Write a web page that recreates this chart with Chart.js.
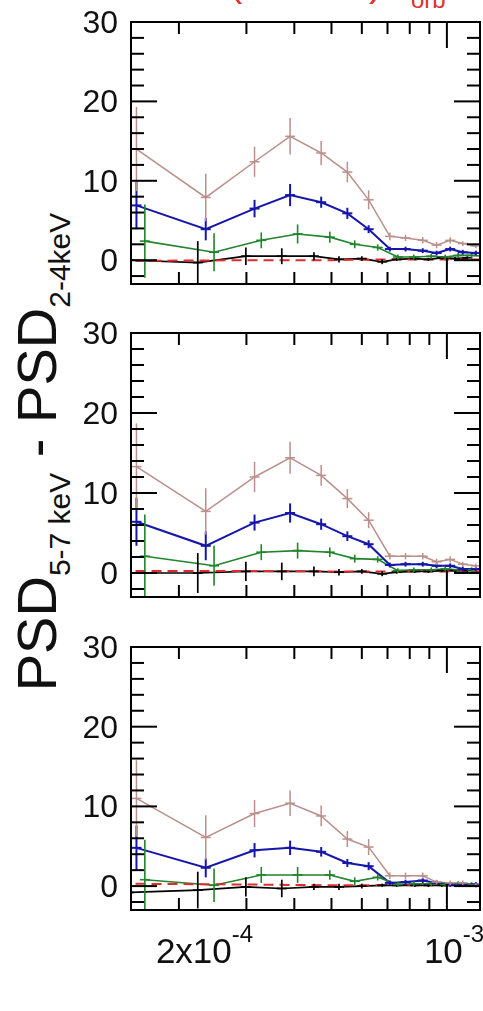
<!DOCTYPE html>
<html>
<head>
<meta charset="utf-8">
<script src="https://cdn.jsdelivr.net/npm/chart.js@4/dist/chart.umd.min.js"></script>
<style>
  html, body { margin: 0; padding: 0; background: #fff; }
  body { width: 483px; height: 1011px; position: relative; overflow: hidden; font-family: "Liberation Sans", Arial, sans-serif; }
  canvas { position: absolute; left: 0; }
  #ylabel {
    position: absolute; left: 40px; top: 452px;
    transform: translate(-50%, -50%) rotate(-90deg);
    white-space: nowrap; font-size: 56px; color: #111;
  }
  #ylabel sub { font-size: 30px; vertical-align: -14px; }
  .red { position: absolute; color: #e03030; white-space: nowrap; }
</style>
</head>
<body>
<div class="red" style="left:229px; top:-40px; font-size:40px;">(</div>
<div class="red" style="left:369px; top:-40px; font-size:40px;">)</div>
<div class="red" style="left:411px; top:-14px; font-size:24px;">orb</div>
<div id="ylabel">PSD<sub>5-7 keV</sub> - PSD<sub>2-4keV</sub></div>
<canvas id="p1" width="483" height="310" style="top:0"></canvas>
<canvas id="p2" width="483" height="310" style="top:310px"></canvas>
<canvas id="p3" width="483" height="391" style="top:620px"></canvas>
<script>
// frequencies (Hz) -- the coloured sets are plotted slightly shifted
const freqMid   = [1.55e-4, 2.35e-4, 3.15e-4, 3.9e-4, 4.7e-4, 5.5e-4, 6.25e-4, 7.1e-4, 7.8e-4, 8.65e-4, 9.4e-4, 1.02e-3, 1.1e-3, 1.19e-3];
const freqGreen = [1.63e-4, 2.47e-4, 3.28e-4, 4.08e-4, 4.95e-4, 5.75e-4, 6.6e-4, 7.45e-4, 8.2e-4, 9.1e-4, 9.9e-4, 1.07e-3, 1.16e-3, 1.25e-3];
const freqBlack = [1.48e-4, 2.24e-4, 2.99e-4, 3.71e-4, 4.5e-4, 5.23e-4, 6.0e-4, 6.78e-4, 7.4e-4, 8.25e-4, 8.95e-4, 9.7e-4, 1.05e-3, 1.13e-3];
const freqModel = [1.4e-4, 3e-4, 5e-4, 7e-4, 1.3e-3];

// panel 1
const p1Brown = [14.0, 7.9, 12.4, 15.6, 13.5, 11.1, 7.6, 3.0, 2.8, 2.5, 1.9, 2.5, 2.1, 1.8];
const p1BrownErr = [5.3, 3.0, 1.9, 2.3, 1.5, 1.3, 1.2, 0.5, 0.4, 0.4, 0.4, 0.4, 0.3, 0.3];
const p1Blue = [6.9, 3.9, 6.5, 8.2, 7.3, 5.9, 3.9, 1.4, 1.4, 1.2, 0.9, 1.4, 1.0, 0.9];
const p1BlueErr = [3.0, 1.4, 1.1, 1.4, 0.7, 0.7, 0.5, 0.3, 0.3, 0.3, 0.3, 0.3, 0.3, 0.3];
const p1Green = [2.4, 1.0, 2.5, 3.3, 2.9, 2.0, 1.6, 0.4, 0.4, 0.5, 0.4, 0.6, 0.6, 0.5];
const p1GreenErr = [4.6, 2.4, 1.0, 1.2, 0.7, 0.5, 0.4, 0.3, 0.3, 0.3, 0.3, 0.3, 0.3, 0.3];
const p1Black = [0.0, -0.3, 0.5, 0.5, 0.5, 0.1, 0.2, -0.2, 0.1, 0.2, 0.1, 0.3, 0.2, 0.3];
const p1BlackErr = [3.5, 2.7, 1.1, 1.0, 0.5, 0.4, 0.3, 0.3, 0.2, 0.2, 0.2, 0.2, 0.2, 0.2];
const p1Model = [-0.1, 0.0, 0.0, 0.1, 0.1];

// panel 2
const p2Brown = [13.3, 7.7, 12.0, 14.4, 12.2, 9.3, 6.6, 2.1, 2.1, 2.1, 1.4, 1.7, 1.1, 0.9];
const p2BrownErr = [5.4, 2.9, 1.9, 2.0, 1.3, 1.2, 1.0, 0.4, 0.4, 0.4, 0.4, 0.4, 0.3, 0.3];
const p2Blue = [6.4, 3.4, 6.3, 7.5, 6.1, 4.6, 3.6, 1.0, 1.1, 1.1, 0.9, 0.9, 0.5, 0.5];
const p2BlueErr = [3.0, 1.8, 1.0, 1.2, 0.7, 0.6, 0.5, 0.3, 0.3, 0.3, 0.3, 0.3, 0.3, 0.3];
const p2Green = [2.1, 0.9, 2.6, 2.8, 2.6, 1.8, 1.7, 0.3, 0.4, 0.4, 0.5, 0.4, 0.4, 0.4];
const p2GreenErr = [5.2, 2.5, 1.0, 1.0, 0.6, 0.5, 0.4, 0.3, 0.3, 0.3, 0.3, 0.3, 0.3, 0.3];
const p2Black = [0.0, 0.0, 0.2, 0.2, 0.2, 0.1, 0.2, -0.1, 0.1, 0.2, 0.2, 0.3, 0.3, 0.3];
const p2BlackErr = [3.5, 2.5, 1.2, 1.1, 0.6, 0.4, 0.3, 0.3, 0.2, 0.2, 0.2, 0.2, 0.2, 0.2];
const p2Model = [0.25, 0.25, 0.2, 0.2, 0.2];

// panel 3
const p3Brown = [11.0, 6.1, 9.1, 10.4, 8.8, 5.9, 4.9, 1.3, 1.3, 1.3, 0.5, 0.4, 0.4, 0.1];
const p3BrownErr = [4.8, 2.8, 1.7, 1.6, 1.3, 1.0, 1.0, 0.4, 0.4, 0.4, 0.3, 0.3, 0.3, 0.3];
const p3Blue = [4.8, 2.3, 4.5, 4.8, 4.3, 2.9, 2.5, 0.4, 0.5, 0.7, 0.4, 0.2, 0.2, 0.2];
const p3BlueErr = [2.8, 1.2, 0.9, 0.9, 0.6, 0.5, 0.5, 0.3, 0.3, 0.3, 0.3, 0.3, 0.3, 0.3];
const p3Green = [0.8, 0.1, 1.4, 1.4, 1.4, 0.6, 1.1, 0.2, 0.3, 0.3, 0.2, 0.3, 0.2, 0.2];
const p3GreenErr = [5.0, 2.1, 1.0, 1.0, 0.6, 0.5, 0.4, 0.3, 0.3, 0.3, 0.3, 0.3, 0.3, 0.3];
const p3Black = [-0.8, -0.5, -0.1, -0.3, -0.1, -0.1, 0.0, 0.1, 0.1, 0.1, 0.1, 0.1, 0.1, 0.1];
const p3BlackErr = [3.5, 2.3, 1.2, 1.1, 0.4, 0.4, 0.3, 0.2, 0.2, 0.2, 0.2, 0.2, 0.2, 0.2];
const p3Model = [0.3, 0.2, 0.1, 0.1, 0.1];

// axes
const xMin = 1.5e-4, xMax = 1.22e-3, yMin = -3, yMax = 30;
const xMinorTicks = [2e-4, 3e-4, 4e-4, 5e-4, 6e-4, 7e-4, 8e-4, 9e-4];
const xMajorTicks = [1e-3];
const yMajorTicks = [0, 10, 20, 30];
const yMinorTicks = [-2, 2, 4, 6, 8, 12, 14, 16, 18, 22, 24, 26, 28];
const xLabelValues = [2e-4, 1e-3];
const xLabelBase = ['2x10', '10'];
const xLabelExp = ['-4', '-3'];

const BROWN = 'rgb(186,144,140)', BLUE = 'rgb(22,22,170)', GREEN = 'rgb(34,132,44)', BLACK = '#000', RED = 'rgb(222,45,45)';

function series(xs, ys, errs, color, width, dash) {
  return {
    data: xs.map((x, i) => ({x: x, y: ys[i]})),
    errs: errs,
    borderColor: color,
    borderWidth: width,
    borderDash: dash || [],
    pointRadius: 0,
    fill: false,
    tension: 0
  };
}

function line(ctx, x1, y1, x2, y2) {
  ctx.beginPath();
  ctx.moveTo(x1, y1);
  ctx.lineTo(x2, y2);
  ctx.stroke();
}

const errorBars = {
  id: 'errorBars',
  afterDatasetsDraw(chart) {
    const {ctx, chartArea: a, scales: {x, y}} = chart;
    ctx.save();
    ctx.beginPath();
    ctx.rect(a.left, a.top, a.right - a.left, a.bottom - a.top);
    ctx.clip();
    chart.data.datasets.forEach((ds) => {
      if (!ds.errs) return;
      ctx.strokeStyle = ds.borderColor;
      ctx.lineWidth = ds.borderWidth;
      ds.data.forEach((p, i) => {
        const px = x.getPixelForValue(p.x);
        const py = y.getPixelForValue(p.y);
        line(ctx, px, y.getPixelForValue(p.y - ds.errs[i]), px, y.getPixelForValue(p.y + ds.errs[i]));
        line(ctx, px - 5, py, px + 5, py);
      });
    });
    ctx.restore();
  }
};

const frame = {
  id: 'frame',
  afterDraw(chart, args, opts) {
    const {ctx, chartArea: a, scales: {x, y}} = chart;
    ctx.save();
    ctx.strokeStyle = '#000';
    ctx.lineWidth = 2;
    ctx.strokeRect(a.left, a.top, a.right - a.left, a.bottom - a.top);
    xMinorTicks.forEach((v) => {
      const px = x.getPixelForValue(v);
      line(ctx, px, a.top, px, a.top + 12);
      line(ctx, px, a.bottom, px, a.bottom - 12);
    });
    xMajorTicks.forEach((v) => {
      const px = x.getPixelForValue(v);
      line(ctx, px, a.top, px, a.top + 26);
      line(ctx, px, a.bottom, px, a.bottom - 26);
    });
    yMinorTicks.forEach((v) => {
      const py = y.getPixelForValue(v);
      line(ctx, a.left, py, a.left + 13, py);
      line(ctx, a.right, py, a.right - 13, py);
    });
    yMajorTicks.forEach((v) => {
      const py = y.getPixelForValue(v);
      line(ctx, a.left, py, a.left + 26, py);
      line(ctx, a.right, py, a.right - 26, py);
    });

    ctx.fillStyle = '#111';
    ctx.font = '32px "Liberation Sans", Arial, sans-serif';
    ctx.textAlign = 'right';
    ctx.textBaseline = 'middle';
    yMajorTicks.forEach((v) => {
      ctx.fillText(String(v), a.left - 13, y.getPixelForValue(v) + 2);
    });

    if (opts.xLabels) {
      ctx.textAlign = 'left';
      ctx.textBaseline = 'alphabetic';
      xLabelValues.forEach((v, i) => {
        const px = x.getPixelForValue(v) - 23;
        ctx.font = '35px "Liberation Sans", Arial, sans-serif';
        ctx.fillText(xLabelBase[i], px, a.bottom + 53);
        const w = ctx.measureText(xLabelBase[i]).width;
        ctx.font = '24px "Liberation Sans", Arial, sans-serif';
        ctx.fillText(xLabelExp[i], px + w, a.bottom + 32);
      });
    }
    ctx.restore();
  }
};

function makePanel(id, pad, brown, brownErr, blue, blueErr, green, greenErr, black, blackErr, model, xLabels) {
  return new Chart(document.getElementById(id), {
    type: 'line',
    data: {
      datasets: [
        series(freqModel, model, null, RED, 2, [10, 6]),
        series(freqBlack, black, blackErr, BLACK, 1.7),
        series(freqGreen, green, greenErr, GREEN, 1.6),
        series(freqMid, blue, blueErr, BLUE, 2),
        series(freqMid, brown, brownErr, BROWN, 1.5)
      ]
    },
    options: {
      responsive: false,
      animation: false,
      devicePixelRatio: 1,
      layout: {padding: pad},
      plugins: {
        legend: {display: false},
        tooltip: {enabled: false},
        frame: {xLabels: xLabels}
      },
      scales: {
        x: {type: 'logarithmic', min: xMin, max: xMax, display: false},
        y: {type: 'linear', min: yMin, max: yMax, display: false}
      }
    },
    plugins: [errorBars, frame]
  });
}

makePanel('p1', {left: 131, right: 3, top: 22, bottom: 26},
  p1Brown, p1BrownErr, p1Blue, p1BlueErr, p1Green, p1GreenErr, p1Black, p1BlackErr, p1Model, false);
makePanel('p2', {left: 131, right: 3, top: 23, bottom: 23},
  p2Brown, p2BrownErr, p2Blue, p2BlueErr, p2Green, p2GreenErr, p2Black, p2BlackErr, p2Model, false);
makePanel('p3', {left: 131, right: 3, top: 27, bottom: 101},
  p3Brown, p3BrownErr, p3Blue, p3BlueErr, p3Green, p3GreenErr, p3Black, p3BlackErr, p3Model, true);
</script>
</body>
</html>
